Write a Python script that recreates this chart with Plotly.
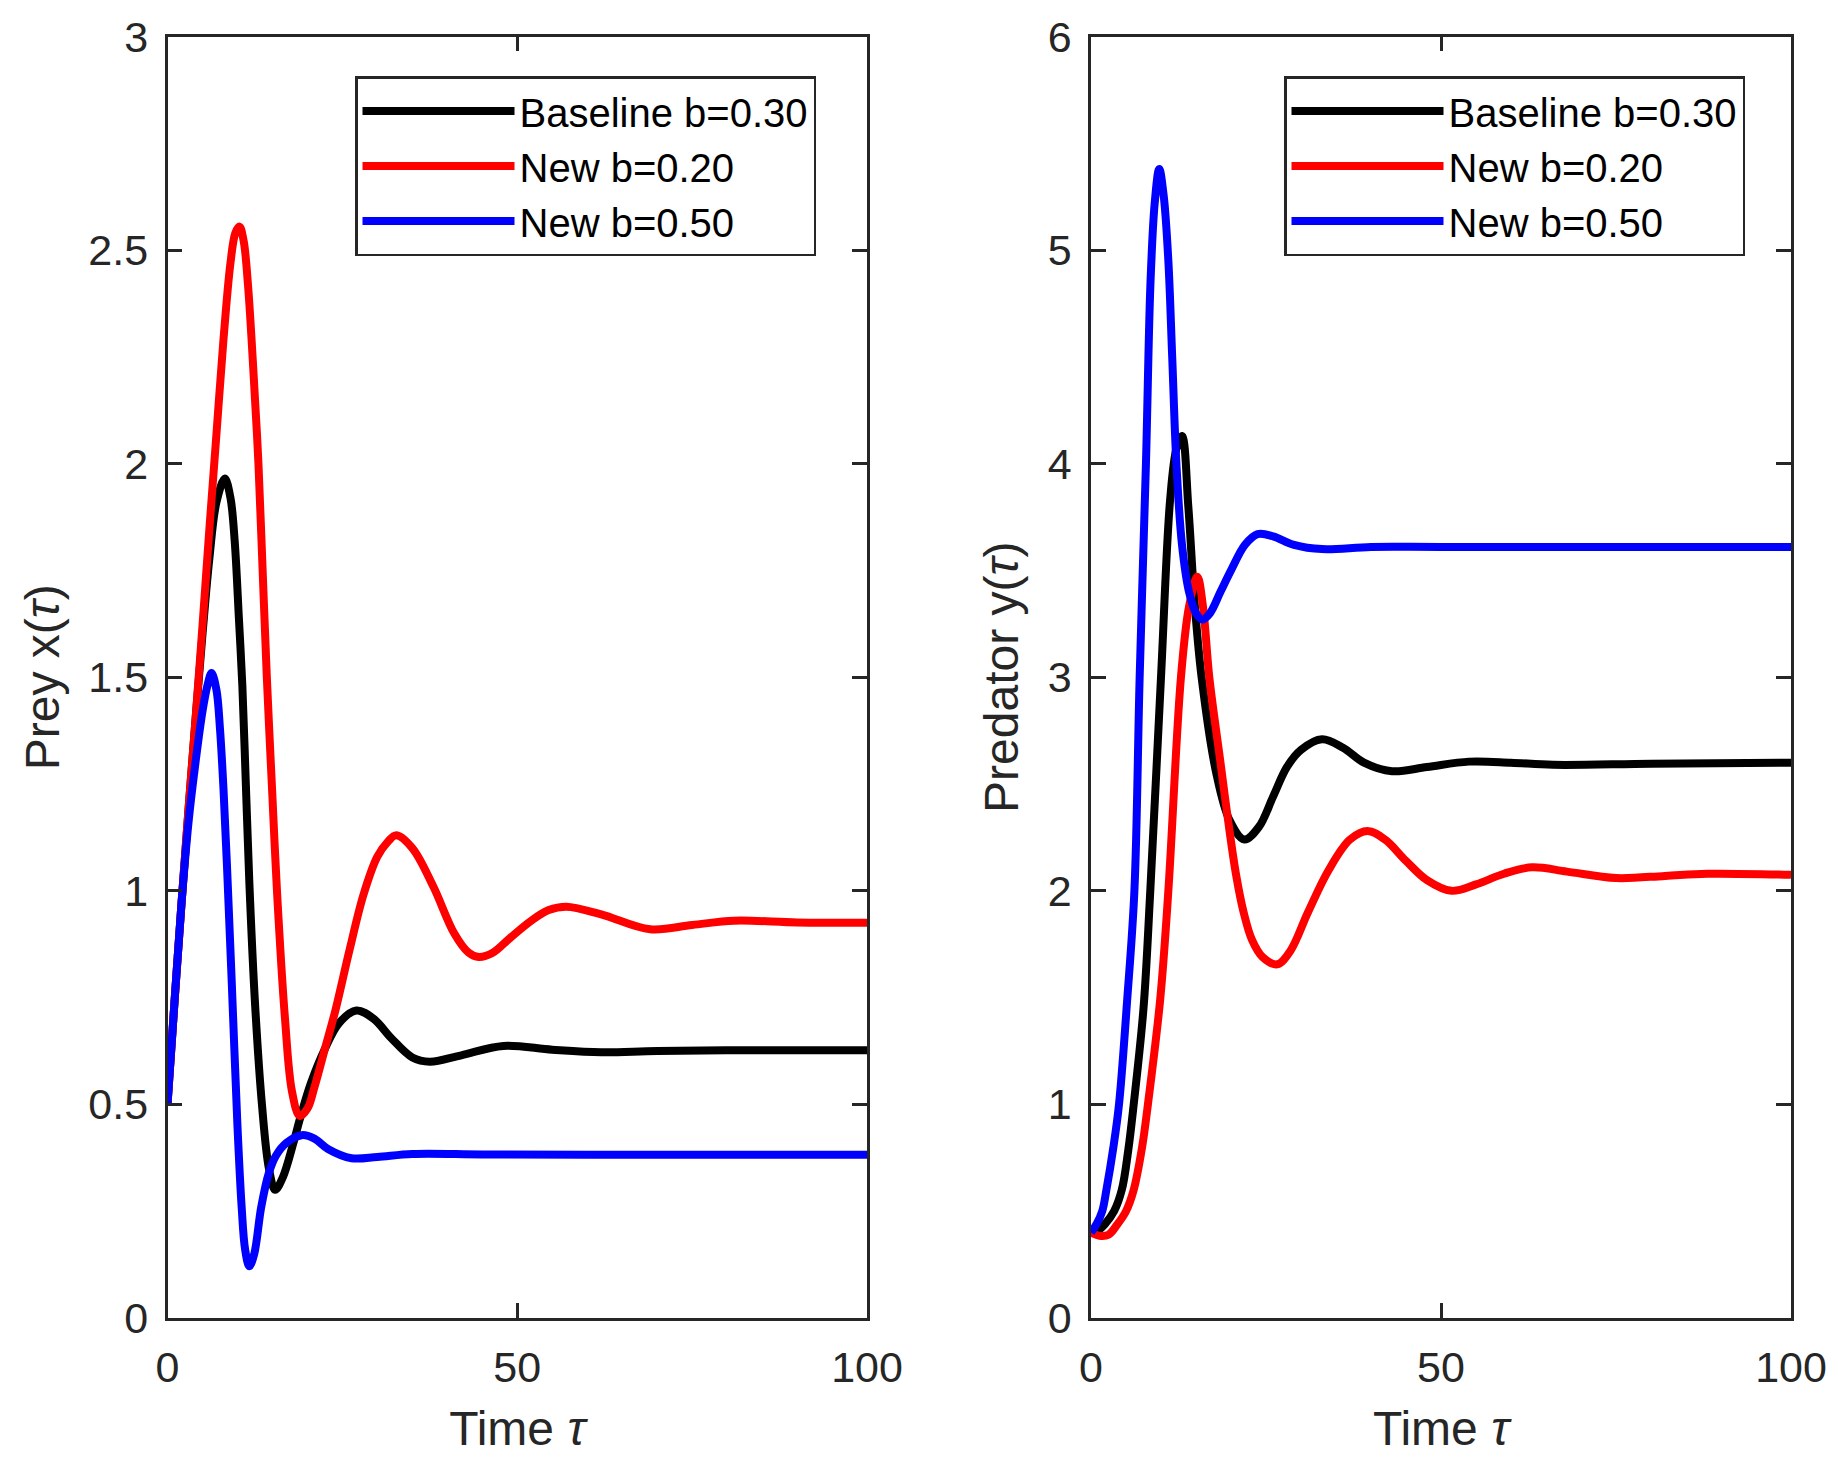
import plotly.graph_objects as go

# --- values ---
# prey x(tau), left panel
t_prey_base = [0, 1, 2, 3, 4, 5, 6, 7, 8.2, 9.0, 9.6, 10.2, 10.7, 11.2, 11.7, 12.5, 13.5, 14.5,
               15.4, 16.5, 18, 19, 20.5, 22.5, 24.5, 27, 29.5, 32, 35, 37.5, 42, 48, 55, 62, 70,
               85, 100]
prey_base = [0.5, 0.74, 0.97, 1.19, 1.4, 1.6, 1.78, 1.91, 1.965, 1.92, 1.82, 1.64, 1.48, 1.25,
             1.02, 0.74, 0.5, 0.35, 0.30, 0.33, 0.41, 0.47, 0.55, 0.63, 0.69, 0.72, 0.70, 0.655,
             0.61, 0.60, 0.615, 0.637, 0.628, 0.622, 0.625, 0.627, 0.627]

t_prey_low = [0, 1, 2, 3, 4, 5, 6, 7, 8, 9, 9.7, 10.3, 10.9, 11.5, 12.2, 13, 13.6, 14.2, 15, 15.65,
              16.8, 17.8, 18.9, 20, 21, 22.5, 24, 26, 28, 30, 31.5, 32.7, 35, 38, 41, 43, 44.5,
              46.5, 49, 52, 54.5, 57, 62, 69, 75, 81, 90, 100]
prey_low = [0.5, 0.74, 0.97, 1.19, 1.4, 1.62, 1.85, 2.07, 2.29, 2.47, 2.54, 2.555, 2.52, 2.42, 2.24,
            2.0, 1.75, 1.5, 1.22, 1.0, 0.70, 0.53, 0.473, 0.49, 0.54, 0.63, 0.72, 0.86, 0.99, 1.08,
            1.115, 1.13, 1.10, 1.01, 0.90, 0.856, 0.845, 0.855, 0.89, 0.93, 0.955, 0.963, 0.945,
            0.91, 0.92, 0.93, 0.926, 0.925]

t_prey_high = [0, 1, 2, 3, 4, 5, 5.7, 6.3, 7.0, 7.5, 8.0, 8.5, 9.2, 10.0, 10.6, 11.1, 11.7, 12.4,
               13.4, 14.5, 15.5, 17, 19.2, 21, 23, 26.3, 30, 35, 45, 60, 100]
prey_high = [0.5, 0.74, 0.97, 1.16, 1.3, 1.42, 1.48, 1.51, 1.47, 1.38, 1.24, 1.06, 0.78, 0.45, 0.26,
             0.16, 0.121, 0.15, 0.26, 0.34, 0.38, 0.41, 0.428, 0.42, 0.395, 0.374, 0.377, 0.384,
             0.383, 0.382, 0.382]

# predator y(tau), right panel
t_pred_base = [0, 1, 2, 3.3, 4.4, 5.3, 6.1, 7.5, 8.47, 10.0, 11.3, 12.2, 13.0, 13.9, 14.8, 15.8,
               17.9, 19.8, 21.9, 24, 26, 28, 30, 33, 36, 39, 43, 48, 54, 60, 66, 80, 100]
pred_base = [0.40, 0.41, 0.44, 0.5, 0.6, 0.78, 1.0, 1.45, 2.0, 3.0, 3.83, 4.07, 4.13, 3.8, 3.35,
             3.0, 2.55, 2.33, 2.24, 2.30, 2.44, 2.58, 2.66, 2.71, 2.67, 2.6, 2.56, 2.58, 2.605,
             2.6, 2.59, 2.595, 2.6]

t_pred_low = [0, 1.2, 2.5, 3.8, 5.0, 6.1, 7.3, 8.13, 9.88, 11.05, 12.85, 14.0, 15.2, 16.0, 16.9,
              18.5, 19.5, 20.7, 21.8, 23, 24.5, 26.6, 28.5, 31, 34, 37, 39.5, 42, 45, 48, 51.5,
              55, 59, 63, 68, 75, 82, 88, 100]
pred_low = [0.40, 0.385, 0.39, 0.44, 0.5, 0.6, 0.8, 1.0, 1.49, 2.0, 3.0, 3.33, 3.47, 3.33, 3.0,
            2.6, 2.35, 2.08, 1.9, 1.77, 1.69, 1.656, 1.72, 1.9, 2.1, 2.24, 2.28, 2.24, 2.14, 2.05,
            2.0, 2.03, 2.08, 2.11, 2.09, 2.06, 2.07, 2.08, 2.075]

t_pred_high = [0, 0.8, 1.6, 2.2, 3.2, 4.0, 5.17, 6.2, 6.95, 7.85, 8.5, 9.1, 9.75, 10.4, 11.05,
               11.6, 12.2, 13.0, 14.0, 15.0, 15.9, 17.0, 18.5, 20, 22, 23.8, 26, 29, 33, 40, 50, 100]
pred_high = [0.40, 0.44, 0.5, 0.6, 0.8, 1.0, 1.49, 2.0, 3.0, 4.0, 4.85, 5.22, 5.38, 5.25, 4.95,
             4.5, 4.0, 3.62, 3.40, 3.30, 3.27, 3.30, 3.40, 3.50, 3.62, 3.67, 3.66, 3.62, 3.60,
             3.61, 3.61, 3.61]

series_names = ["Baseline b=0.30", "New b=0.20", "New b=0.50"]
series_colors = ["#000000", "#FF0000", "#0000FF"]

x_ticks = [0, 50, 100]
prey_ticks = [0, 0.5, 1, 1.5, 2, 2.5, 3]
prey_tick_text = ["0", "0.5", "1", "1.5", "2", "2.5", "3"]
pred_ticks = [0, 1, 2, 3, 4, 5, 6]

# the page body keeps its default 8px margin, so the figure is made
# 16px smaller and every screen position is shifted back by 8px
BODY = 8
W, H = 1839 - 2 * BODY, 1465 - 2 * BODY
FONT = "Liberation Sans, Arial, Helvetica, sans-serif"
AX = "#262626"
LW = 8


def px_x(p):
    return (p - BODY) / W


def px_y(p):
    return 1 - (p - BODY) / H


fig = go.Figure()

prey = [(t_prey_base, prey_base), (t_prey_low, prey_low), (t_prey_high, prey_high)]
pred = [(t_pred_base, pred_base), (t_pred_low, pred_low), (t_pred_high, pred_high)]

for (t, v), name, col in zip(prey, series_names, series_colors):
    fig.add_trace(go.Scatter(x=t, y=v, name=name, mode="lines",
                             line=dict(color=col, width=LW, shape="spline"),
                             xaxis="x", yaxis="y", legend="legend"))

for (t, v), name, col in zip(pred, series_names, series_colors):
    fig.add_trace(go.Scatter(x=t, y=v, name=name, mode="lines",
                             line=dict(color=col, width=LW, shape="spline"),
                             xaxis="x2", yaxis="y2", legend="legend2"))

axis_common = dict(
    showline=True, linewidth=2.5, linecolor=AX, mirror="ticks",
    ticks="inside", ticklen=15, tickwidth=2.5, tickcolor=AX,
    showgrid=False, zeroline=False, automargin=False,
    tickfont=dict(family=FONT, size=43, color=AX),
    title_font=dict(family=FONT, size=48, color=AX),
)

y_dom = [px_y(1318), px_y(36.5)]

legend_common = dict(
    xanchor="left", yanchor="top", bgcolor="white", bordercolor=AX, borderwidth=2.5,
    font=dict(family=FONT, size=40, color="black"), itemwidth=152, tracegroupgap=0,
)

fig.update_layout(
    width=W, height=H,
    margin=dict(l=0, r=0, t=0, b=0, autoexpand=False),
    paper_bgcolor="white", plot_bgcolor="white",
    showlegend=True,
    xaxis=dict(domain=[px_x(167.5), px_x(867)], range=[0, 100], tickvals=x_ticks,
               anchor="y", title=dict(text="Time <i>τ</i>", standoff=22),
               ticklabelstandoff=10, **axis_common),
    yaxis=dict(domain=y_dom, range=[0, 3], tickvals=prey_ticks, ticktext=prey_tick_text,
               anchor="x", title=dict(text="Prey x(<i>τ</i>)", standoff=14),
               ticklabelstandoff=8, **axis_common),
    xaxis2=dict(domain=[px_x(1091), px_x(1791)], range=[0, 100], tickvals=x_ticks,
                anchor="y2", title=dict(text="Time <i>τ</i>", standoff=22),
                ticklabelstandoff=10, **axis_common),
    yaxis2=dict(domain=y_dom, range=[0, 6], tickvals=pred_ticks,
                anchor="x2", title=dict(text="Predator y(<i>τ</i>)", standoff=14),
                ticklabelstandoff=8, **axis_common),
    legend=dict(x=px_x(355), y=px_y(76), **legend_common),
    legend2=dict(x=px_x(1284), y=px_y(76), **legend_common),
)

fig.write_html("out.html")
